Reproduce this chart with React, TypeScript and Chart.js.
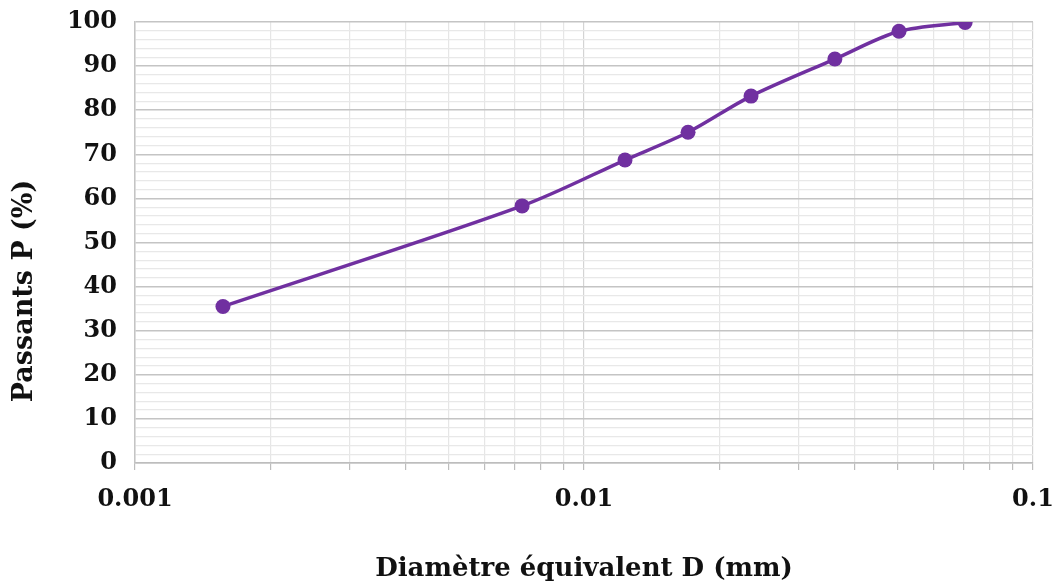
import React, { useEffect, useRef } from "react";
import { Chart, registerables } from "chart.js";

Chart.register(...registerables);

const diameters = [0.00157, 0.00728, 0.01234, 0.01705, 0.02355, 0.0362, 0.0503, 0.0706];
const passing = [35.5, 58.3, 68.7, 75.0, 83.2, 91.6, 97.9, 99.9];
const xMajorTicks = [0.001, 0.01, 0.1];
const xTickLabels = ["0.001", "0.01", "0.1"];
const yTickStep = 2;
const yLabelStep = 10;
const yTitle = "Passants P (%)";
const xTitle = "Diamètre équivalent D (mm)";

const FONT = "'DejaVu Serif', serif";
const PURPLE = "#7030A0";

const yTitlePlugin = {
  id: "yTitlePlugin",
  afterDraw(chart: any) {
    const ctx = chart.ctx;
    ctx.save();
    ctx.translate(25, 291);
    ctx.rotate(-Math.PI / 2);
    ctx.font = `bold 27px ${FONT}`;
    ctx.fillStyle = "#111";
    ctx.textAlign = "center";
    ctx.textBaseline = "middle";
    ctx.fillText(yTitle, 0, 0);
    ctx.restore();
  },
};

export default function App() {
  const ref = useRef<HTMLCanvasElement | null>(null);

  useEffect(() => {
    document.body.style.margin = "0";
    const canvas = ref.current;
    if (!canvas) return;
    const chart = new Chart(canvas, {
      type: "line",
      data: {
        datasets: [
          {
            data: diameters.map((d, i) => ({ x: d, y: passing[i] })),
            borderColor: PURPLE,
            backgroundColor: PURPLE,
            borderWidth: 3.5,
            pointRadius: 7.5,
            pointBackgroundColor: PURPLE,
            pointBorderColor: PURPLE,
            pointBorderWidth: 0,
            tension: 0.3,
            fill: false,
          },
        ],
      },
      plugins: [yTitlePlugin],
      options: {
        animation: false,
        responsive: false,
        maintainAspectRatio: false,
        layout: { padding: { top: 22, right: 25, left: 0, bottom: 0 } },
        plugins: {
          legend: { display: false },
          tooltip: { enabled: false },
        },
        scales: {
          x: {
            type: "logarithmic",
            min: xMajorTicks[0],
            max: xMajorTicks[xMajorTicks.length - 1],
            afterBuildTicks: (scale: any) => {
              const ticks: any[] = [];
              for (let k = 0; k < xMajorTicks.length; k++) {
                const base = xMajorTicks[k];
                ticks.push({ value: base, major: true });
                if (k < xMajorTicks.length - 1) {
                  for (let m = 2; m <= 9; m++) {
                    ticks.push({ value: base * m, major: false });
                  }
                }
              }
              scale.ticks = ticks;
            },
            afterFit: (scale: any) => {
              scale.height = 123;
              scale.paddingLeft = 0;
              scale.paddingRight = 0;
              scale.paddingTop = 0;
              scale.paddingBottom = 0;
            },
            ticks: {
              autoSkip: false,
              maxRotation: 0,
              minRotation: 0,
              padding: 15,
              color: "#111",
              font: { family: FONT, size: 24, weight: "bold" },
              callback: (_v: any, i: number, ticks: any[]) => {
                const t = ticks[i];
                if (!t || !t.major) return "";
                const idx = xMajorTicks.findIndex((m) => Math.abs(m - t.value) / m < 1e-6);
                return idx >= 0 ? xTickLabels[idx] : "";
              },
            },
            grid: {
              color: (ctx: any) => (ctx.tick && ctx.tick.major ? "#d4d4d4" : "#e6e6e6"),
              lineWidth: 1.2,
              tickLength: 7,
              tickColor: "#bdbdbd",
            },
            border: { color: "#bdbdbd", width: 1.5 },
            title: {
              display: true,
              text: xTitle,
              color: "#111",
              font: { family: FONT, size: 26, weight: "bold" },
              padding: { top: 0, bottom: 1 },
            },
          },
          y: {
            type: "linear",
            min: 0,
            max: 100,
            afterFit: (scale: any) => {
              scale.width = 135;
              scale.paddingLeft = 0;
              scale.paddingRight = 0;
              scale.paddingTop = 0;
              scale.paddingBottom = 0;
            },
            ticks: {
              stepSize: yTickStep,
              autoSkip: false,
              padding: 18,
              color: "#111",
              font: { family: FONT, size: 24, weight: "bold" },
              callback: (v: any) => (Math.round(v) % yLabelStep === 0 ? String(v) : ""),
            },
            grid: {
              color: (ctx: any) =>
                ctx.tick && Math.round(ctx.tick.value) % yLabelStep === 0 ? "#c4c4c4" : "#e8e8e8",
              lineWidth: (ctx: any) =>
                ctx.tick && Math.round(ctx.tick.value) % yLabelStep === 0 ? 1.6 : 1.2,
              drawTicks: false,
            },
            border: { color: "#c4c4c4", width: 1.5 },
            title: { display: false },
          },
        },
      },
    });
    return () => chart.destroy();
  }, []);

  return (
    <div style={{ position: "absolute", left: 0, top: 0, width: 1058, height: 586, background: "#fff" }}>
      <canvas ref={ref} width={1058} height={586} style={{ width: 1058, height: 586 }} />
    </div>
  );
}
